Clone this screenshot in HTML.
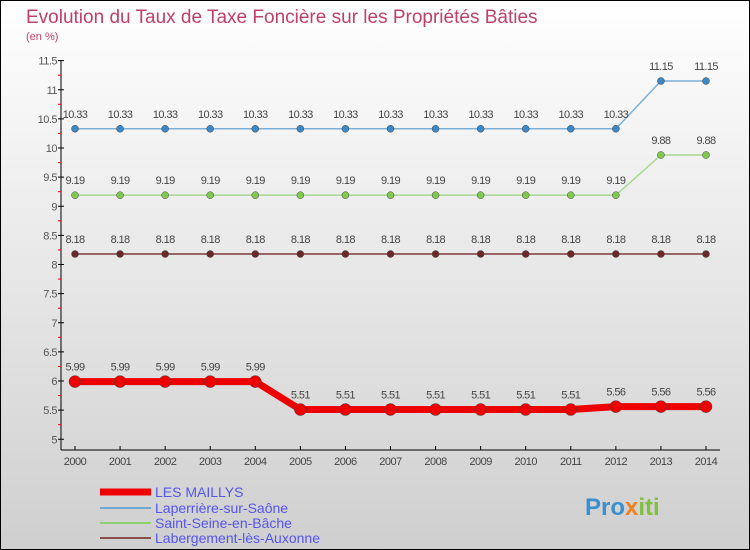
<!DOCTYPE html>
<html><head><meta charset="utf-8"><style>
html,body{margin:0;padding:0}
body{width:750px;height:550px;overflow:hidden;font-family:"Liberation Sans",sans-serif}
svg{display:block}
</style></head><body>
<svg width="750" height="550">
<defs><linearGradient id="bg" x1="0" y1="0" x2="0" y2="1"><stop offset="0" stop-color="#ffffff"/><stop offset="1" stop-color="#cfcfcf"/></linearGradient></defs>
<rect x="0.5" y="0.5" width="749" height="549" fill="url(#bg)" stroke="#000"/>
<text x="26" y="23" font-size="19" fill="#c0406a">Evolution du Taux de Taxe Foncière sur les Propriétés Bâties</text>
<text x="26" y="40" font-size="11" fill="#c0406a">(en %)</text>
<g id="axes"></g><g id="series"></g>
<g id="legend">
<line x1="100" y1="492" x2="151" y2="492" stroke="#ee0000" stroke-width="7"/>
<text x="155" y="497" font-size="14" fill="#5555ee">LES MAILLYS</text>
<line x1="100" y1="508" x2="151" y2="508" stroke="#6fa8d0" stroke-width="2"/>
<text x="155" y="513" font-size="14" fill="#5555ee">Laperrière-sur-Saône</text>
<line x1="100" y1="523" x2="151" y2="523" stroke="#90d070" stroke-width="2"/>
<text x="155" y="528" font-size="14" fill="#5555ee">Saint-Seine-en-Bâche</text>
<line x1="100" y1="538" x2="151" y2="538" stroke="#8a5050" stroke-width="2"/>
<text x="155" y="543" font-size="14" fill="#5555ee">Labergement-lès-Auxonne</text>
</g>
<text x="585" y="515" font-size="24" font-weight="bold" fill="#3a8fd0">Pro<tspan fill="#f08020">x</tspan><tspan fill="#80c040">iti</tspan></text>
</svg>
<script>
const years=[2000,2001,2002,2003,2004,2005,2006,2007,2008,2009,2010,2011,2012,2013,2014];
const yTicks=[5,5.5,6,6.5,7,7.5,8,8.5,9,9.5,10,10.5,11,11.5];
const maillys=[5.99,5.99,5.99,5.99,5.99,5.51,5.51,5.51,5.51,5.51,5.51,5.51,5.56,5.56,5.56];
const laperriere=[10.33,10.33,10.33,10.33,10.33,10.33,10.33,10.33,10.33,10.33,10.33,10.33,10.33,11.15,11.15];
const saintSeine=[9.19,9.19,9.19,9.19,9.19,9.19,9.19,9.19,9.19,9.19,9.19,9.19,9.19,9.88,9.88];
const labergement=[8.18,8.18,8.18,8.18,8.18,8.18,8.18,8.18,8.18,8.18,8.18,8.18,8.18,8.18,8.18];
const NS="http://www.w3.org/2000/svg";
const x=i=>75+i*(706-75)/(years.length-1);
const y=v=>439.25-(v-5)*58.25;
function mk(t,a,p){const e=document.createElementNS(NS,t);for(const k in a)e.setAttribute(k,a[k]);p.appendChild(e);return e;}
const ax=document.getElementById('axes');
let l=mk('line',{x1:61,y1:60,x2:61,y2:450,stroke:'#000'},ax);


l=mk('line',{x1:61,y1:450,x2:720,y2:450,stroke:'#000'},ax);


yTicks.forEach((v,k)=>{
 mk('line',{x1:58,y1:y(v),x2:64,y2:y(v),stroke:'#000'},ax);
 if(k<yTicks.length-1) mk('line',{x1:58,y1:y(v+0.25),x2:61,y2:y(v+0.25),stroke:'#e00'},ax);
 const t=mk('text',{x:57,y:y(v)+4,'text-anchor':'end','font-size':11,fill:'#555','letter-spacing':'-0.5'},ax);
 t.textContent=String(v);
 
 
});
years.forEach((yr,i)=>{
 mk('line',{x1:x(i),y1:446,x2:x(i),y2:450,stroke:'#000'},ax);
 const t=mk('text',{x:x(i),y:465,'text-anchor':'middle','font-size':11,fill:'#444','letter-spacing':'-0.5'},ax);
 t.textContent=yr;
 
 
});
const sg=document.getElementById('series');
function series(vals,color,w,r,dot,name){
 const g=mk('g',{},sg);
 
 
 const pl=mk('polyline',{points:vals.map((v,i)=>x(i)+','+y(v)).join(' '),fill:'none',stroke:color,'stroke-width':w},g);
 
 
 vals.forEach((v,i)=>{
  const c=mk('circle',{cx:x(i),cy:y(v),r:r,fill:dot,stroke:'#444','stroke-width':0.5},g);
  
  
  const t=mk('text',{x:x(i),y:y(v)-11,'text-anchor':'middle','font-size':11,fill:'#444','letter-spacing':'-0.6'},g);
  t.textContent=String(v);
  
  
 });
}
series(labergement,'#7a3a3a',1.5,3.5,'#6a2a2a','labergement');
series(saintSeine,'#a8d890',1.5,3.5,'#80c850','saint-seine');
series(laperriere,'#7ab0d8',1.5,3.5,'#3a88c8','laperriere');
series(maillys,'#ee0000',7,6,'#ee0000','les-maillys');
</script>
</body></html>
